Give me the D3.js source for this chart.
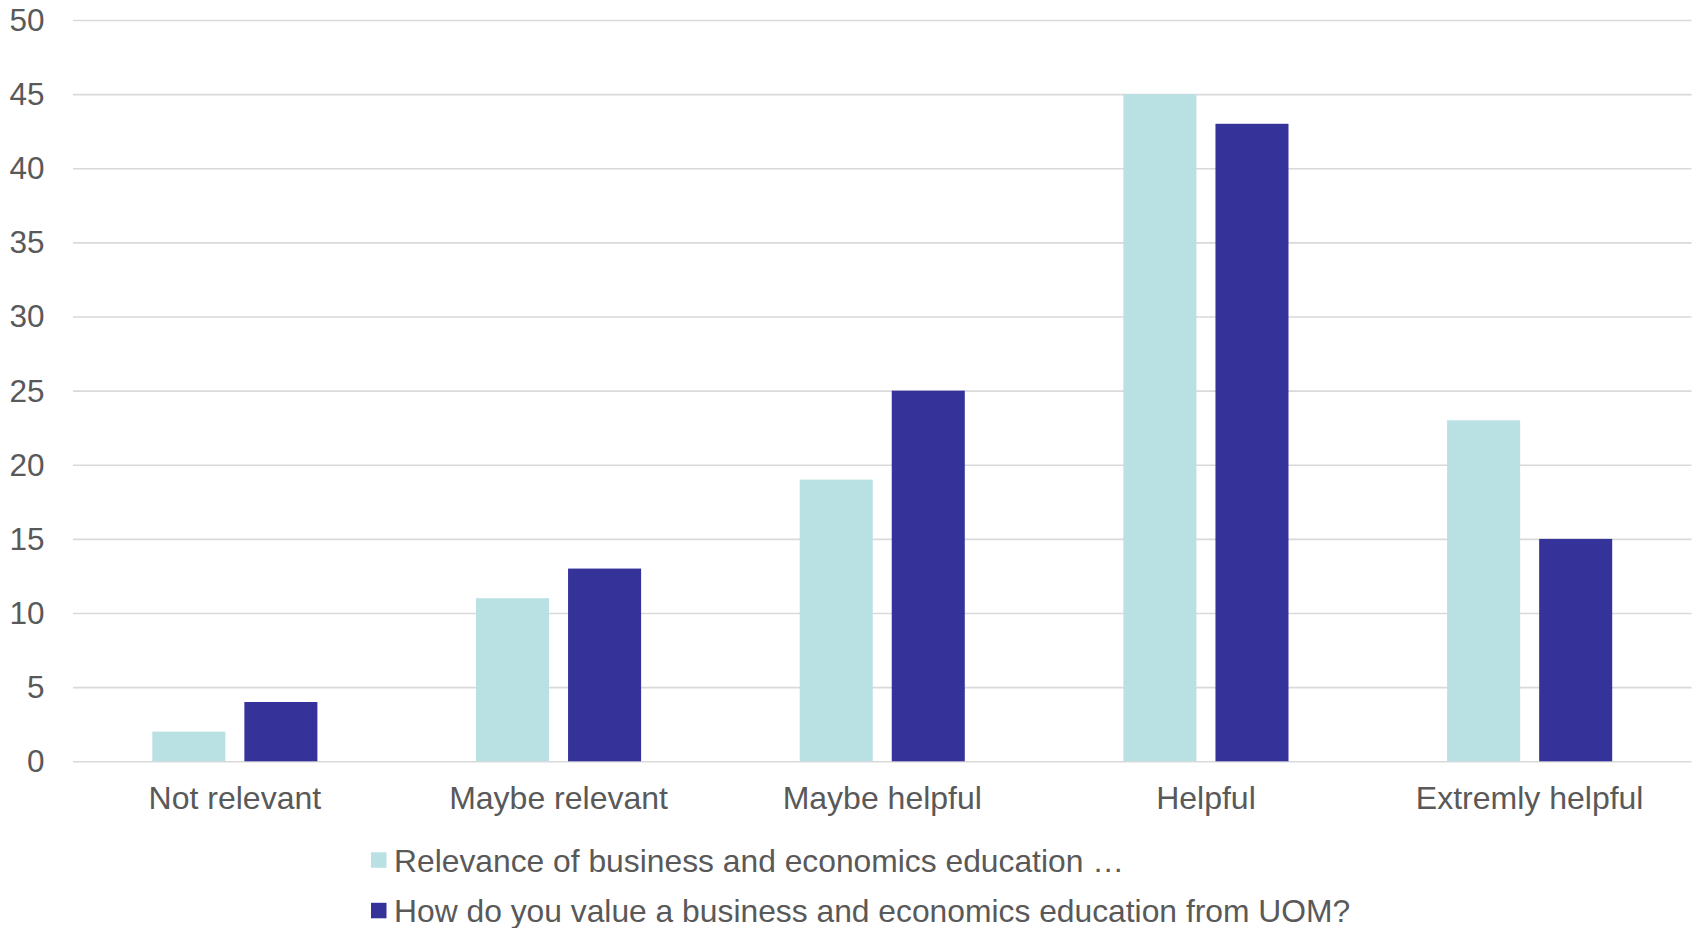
<!DOCTYPE html>
<html>
<head>
<meta charset="utf-8">
<script src="https://cdn.jsdelivr.net/npm/d3@7"></script>
<style>
  html, body { margin: 0; padding: 0; background: #ffffff; }
  svg { display: block; }
  text { font-family: "Liberation Sans", Arial, sans-serif; fill: #595959; }
</style>
</head>
<body>
<svg id="chart" width="1694" height="928"></svg>
<script>
const categories = ["Not relevant", "Maybe relevant", "Maybe helpful", "Helpful", "Extremly helpful"];
const seriesNames = ["Relevance of business and economics education \u2026",
                     "How do you value a business and economics education from UOM?"];
const relevanceValues = [2, 11, 19, 45, 23];
const valueValues = [4, 13, 25, 43, 15];
const yTicks = [0, 5, 10, 15, 20, 25, 30, 35, 40, 45, 50];
const colors = ["#b9e0e3", "#353399"];

const series = [relevanceValues, valueValues];
const svg = d3.select("#chart");

const plotLeft = 73, plotRight = 1691.5, plotTop = 20, plotBottom = 761.3;

const x0 = d3.scaleBand().domain(categories).range([plotLeft, plotRight])
  .paddingInner(0.49).paddingOuter(0.245);
const x1 = d3.scaleBand().domain([0, 1]).range([0, x0.bandwidth()])
  .paddingInner(0.2065).paddingOuter(0);
const y = d3.scaleLinear().domain([0, 50]).range([plotBottom, plotTop]);

// gridlines
const yAxis = d3.axisLeft(y).tickValues(yTicks).tickSize(-(plotRight - plotLeft)).tickFormat(d3.format("d"));
const gy = svg.append("g").attr("transform", `translate(${plotLeft},0)`).call(yAxis);
gy.select(".domain").remove();
gy.selectAll(".tick line").attr("stroke", "#d9d9d9").attr("stroke-width", 1.6);
gy.selectAll(".tick text")
  .attr("x", 44.5 - plotLeft).attr("dy", "0.33em")
  .style("font-size", "31.5px").style("fill", "#595959").attr("text-anchor", "end");

// bars
const groups = svg.append("g").selectAll("g").data(categories).join("g")
  .attr("transform", d => `translate(${x0(d)},0)`);
groups.selectAll("rect").data((d, i) => series.map((s, k) => ({k, v: s[i]}))).join("rect")
  .attr("x", d => x1(d.k))
  .attr("width", x1.bandwidth())
  .attr("y", d => y(d.v))
  .attr("height", d => y(0) - y(d.v))
  .attr("fill", d => colors[d.k]);

// x axis labels
const xAxis = d3.axisBottom(x0).tickSize(0).tickPadding(0);
const gx = svg.append("g").attr("transform", `translate(0,${plotBottom})`).call(xAxis);
gx.select(".domain").remove();
gx.selectAll(".tick text").attr("y", 48).attr("dy", 0)
  .style("font-size", "32px").style("fill", "#595959");

// legend
const legend = svg.append("g").selectAll("g").data(seriesNames).join("g")
  .attr("transform", (d, i) => `translate(371,${852.3 + i * 50.5})`);
legend.append("rect").attr("width", 15.5).attr("height", 15.5)
  .attr("fill", (d, i) => colors[i]);
legend.append("text").attr("x", 23).attr("y", 19.5)
  .style("font-size", "31.8px").text(d => d);
</script>
</body>
</html>
